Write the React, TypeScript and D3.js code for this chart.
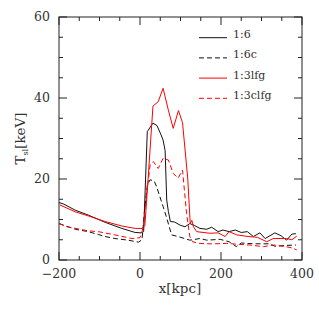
import React from 'react';
import * as d3 from 'd3';

// x positions (kpc) and temperatures (keV) for each run
const x16 = [-200, -188, -160, -128, -86, -45, -12, 3, 9, 18, 32, 42, 52, 57, 62, 66, 70, 75, 85, 99, 111, 123, 135, 148, 165, 177, 193, 205, 220, 235, 250, 265, 280, 296, 309, 333, 348, 362, 375, 385];
const t16 = [14.2, 13.8, 12.3, 11.1, 9.3, 7.8, 6.8, 6.7, 7.0, 31.7, 33.8, 33.2, 30.9, 29.6, 27, 14.8, 12.0, 9.5, 9.4, 8.6, 8.2, 9.0, 8.5, 7.8, 7.6, 8.1, 7.0, 7.4, 7.0, 7.4, 6.8, 7.0, 5.8, 6.7, 5.3, 6.7, 6.0, 4.9, 6.4, 6.5];

const x16c = [-200, -160, -128, -103, -86, -62, -29, -4, 5, 11, 18, 25, 35, 41, 57, 65, 78, 94, 110, 123, 148, 165, 198, 220, 238, 250, 280, 320, 333, 360, 385];
const t16c = [9.0, 7.6, 7.0, 6.3, 5.8, 5.3, 4.9, 4.4, 5.0, 12, 18.5, 19.8, 19.5, 18.1, 13.2, 10.7, 6.2, 5.8, 5.3, 4.9, 5.3, 4.9, 5.1, 4.5, 3.3, 4.2, 4.0, 4.0, 3.4, 3.6, 3.7];

const x13lfg = [-198, -160, -128, -86, -45, -12, 5, 12, 20, 32, 45, 57, 70, 82, 95, 105, 118, 124, 128, 132, 140, 173, 193, 210, 220, 239, 267, 290, 313, 329, 362, 375, 387];
const t13lfg = [13.6, 11.9, 10.9, 9.5, 8.4, 7.8, 7.8, 8.5, 20, 38.0, 39.1, 42.4, 37, 32.5, 36.9, 33.9, 20, 9.0, 9.8, 8.2, 7.0, 6.6, 6.7, 5.8, 7.0, 6.2, 5.8, 5.6, 4.5, 5.3, 5.3, 5.0, 5.9];

const x13clfg = [-200, -180, -128, -103, -62, -20, 0, 8, 15, 25, 33, 45, 57, 70, 82, 94, 105, 115, 123, 130, 148, 165, 185, 214, 240, 270, 305, 330, 360, 375, 387];
const t13clfg = [9.0, 8.2, 7.2, 7.0, 6.2, 5.3, 5.5, 8, 15, 23.5, 24.3, 22.6, 25.1, 24.7, 21.4, 20.2, 22.2, 11.5, 5.8, 4.5, 4.1, 4.0, 4.0, 4.1, 3.9, 3.7, 3.3, 3.7, 3.3, 3.0, 2.5];

const xTickLabels = [-200, 0, 200, 400];
const yTickLabels = [0, 20, 40, 60];

const series = [
  { name: '1:6', xs: x16, ys: t16, color: '#111', dash: null },
  { name: '1:6c', xs: x16c, ys: t16c, color: '#111', dash: '5,3' },
  { name: '1:3lfg', xs: x13lfg, ys: t13lfg, color: '#ff0000', dash: null },
  { name: '1:3clfg', xs: x13clfg, ys: t13clfg, color: '#ff0000', dash: '5,3' },
];

const W = 319;
const H = 319;
const left = 59, right = 302, top = 17, bottom = 260;
const font = '"DejaVu Serif", serif';

export default function App() {
  const x = d3.scaleLinear().domain([-200, 400]).range([left, right]);
  const y = d3.scaleLinear().domain([0, 60]).range([bottom, top]);

  const xTicks = d3.range(-200, 401, 50);
  const yTicks = d3.range(0, 61, 5);

  const path = (xs: number[], ys: number[]) => {
    const pts = xs.map((v, i) => [x(v), y(ys[i])] as [number, number]);
    return d3.line()(pts) || '';
  };

  return (
    <svg width={W} height={H} style={{ position: 'absolute', left: 0, top: 0, background: '#fff' }}>
      {/* data */}
      {series.map(s => (
        <path key={s.name} d={path(s.xs, s.ys)} fill="none" stroke={s.color}
          strokeWidth={1} strokeDasharray={s.dash || undefined} />
      ))}

      {/* frame */}
      <rect x={left} y={top} width={right - left} height={bottom - top} fill="none" stroke="#222" strokeWidth={1} />

      {xTicks.map(t => {
        const len = t % 200 === 0 ? 8 : 4;
        return (
          <g key={'xt' + t}>
            <line x1={x(t)} x2={x(t)} y1={bottom} y2={bottom - len} stroke="#222" />
            <line x1={x(t)} x2={x(t)} y1={top} y2={top + len} stroke="#222" />
          </g>
        );
      })}
      {yTicks.map(t => {
        const len = t % 20 === 0 ? 8 : 4;
        return (
          <g key={'yt' + t}>
            <line x1={left} x2={left + len} y1={y(t)} y2={y(t)} stroke="#222" />
            <line x1={right} x2={right - len} y1={y(t)} y2={y(t)} stroke="#222" />
          </g>
        );
      })}

      {xTickLabels.map(t => (
        <text key={'xl' + t} x={x(t)} y={278} textAnchor="middle" fontFamily={font} fontSize={12.5} fill="#333">
          {t < 0 ? '\u2212' + Math.abs(t) : t}
        </text>
      ))}
      {yTickLabels.map(t => (
        <text key={'yl' + t} x={50} y={y(t)} dy="0.33em" textAnchor="end" fontFamily={font} fontSize={12.5} fill="#333">
          {t}
        </text>
      ))}

      <text x={180} y={293} textAnchor="middle" fontFamily={font} fontSize={13.5} fill="#333">x[kpc]</text>
      <text transform={`translate(25,${(top + bottom) / 2}) rotate(-90)`} textAnchor="middle" fontFamily={font} fontSize={13.5} fill="#333">
        T<tspan fontSize={8} dy={3}>sl</tspan><tspan dy={-3}>[keV]</tspan>
      </text>

      {/* legend */}
      {series.map((s, i) => {
        const ly = 37.7 + i * 20.2;
        return (
          <g key={'lg' + s.name}>
            <line x1={199} x2={227} y1={ly} y2={ly} stroke={s.color} strokeWidth={1} strokeDasharray={s.dash || undefined} />
            <text x={233} y={ly + 0.5} fontFamily={font} fontSize={11} fill="#333">{s.name}</text>
          </g>
        );
      })}
    </svg>
  );
}
